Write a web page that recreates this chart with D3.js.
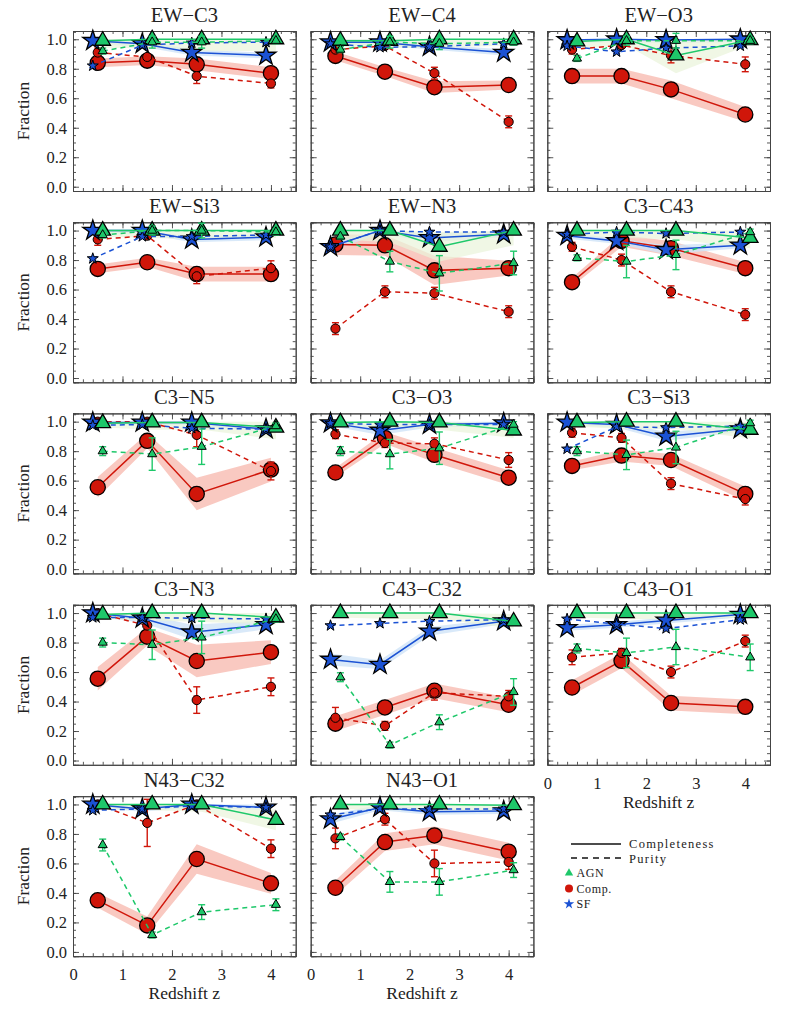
<!DOCTYPE html>
<html><head><meta charset="utf-8">
<script src="https://cdn.jsdelivr.net/npm/d3@7"></script>
<style>
body{margin:0;background:#fff;}
text{font-family:"Liberation Serif","DejaVu Serif","Times New Roman",serif;fill:#222;}
</style></head>
<body><svg id="c" width="789" height="1011"></svg>
<script>
const panelNames = ["EW−C3","EW−C4","EW−O3","EW−Si3","EW−N3","C3−C43","C3−N5","C3−O3","C3−Si3","C3−N3","C43−C32","C43−O1","N43−C32","N43−O1"];
const zBins = [0.5,1.5,2.5,4.0];
const xTicks = [0,1,2,3,4];
const yTicks = [0,0.2,0.4,0.6,0.8,1.0];

const agnComp = [[0.99,1.0,1.0,1.0],[0.99,0.99,1.0,1.0],[0.985,1.0,0.89,0.995],[1.0,1.0,1.0,1.0],[1.0,1.0,0.89,1.0],[1.0,1.0,1.0,0.95],[0.99,0.995,0.995,0.96],[0.995,1.0,0.995,0.94],[0.995,1.0,1.0,0.945],[0.99,1.0,1.0,0.97],[1.0,1.0,1.0,0.943],[1.0,1.0,1.0,1.0],[1.0,1.0,1.0,0.895],[1.0,1.0,1.0,0.995]];
const agnCompErr = [[0.05,0.06,0.08,0.08],[0.04,0.05,0.06,0.04],[0.05,0.04,0.12,0.03],[0.04,0.05,0.06,0.05],[0.06,0.08,0.1,0.1],[0.04,0.05,0.06,0.07],[0.03,0.05,0.05,0.08],[0.03,0.04,0.05,0.05],[0.03,0.05,0.05,0.06],[0.03,0.05,0.06,0.05],[0.03,0.04,0.04,0.05],[0.03,0.04,0.04,0.03],[0.03,0.04,0.05,0.07],[0.03,0.04,0.04,0.04]];
const agnPur = [[0.92,0.98,0.98,0.99],[0.93,0.98,0.97,0.98],[0.87,0.99,0.99,0.99],[0.97,1.0,1.0,0.99],[0.96,0.79,0.71,0.78],[0.815,0.79,0.835,0.99],[0.80,0.78,0.83,0.97],[0.80,0.78,0.82,0.98],[0.80,0.775,0.825,0.99],[0.80,0.785,0.835,0.96],[0.565,0.105,0.26,0.465],[0.76,0.73,0.77,0.70],[0.725,0.115,0.27,0.32],[0.78,0.475,0.475,0.555]];
const agnPurErr = [[0.02,0.04,0.04,0.02],[0.02,0.04,0.04,0.02],[0.02,0.03,0.05,0.02],[0.02,0.03,0.05,0.02],[0.02,0.07,0.12,0.08],[0.02,0.11,0.1,0.02],[0.03,0.11,0.12,0.02],[0.03,0.1,0.11,0.02],[0.03,0.1,0.11,0.02],[0.03,0.1,0.11,0.02],[0.03,0.02,0.05,0.09],[0.03,0.1,0.12,0.09],[0.04,0.02,0.05,0.04],[0.02,0.07,0.09,0.05]];

const cmpComp = [[0.84,0.855,0.83,0.77],[0.887,0.78,0.675,0.69],[0.75,0.75,0.66,0.49],[0.74,0.785,0.705,0.705],[0.905,0.90,0.73,0.745],[0.65,0.93,0.88,0.745],[0.555,0.87,0.51,0.675],[0.655,0.89,0.775,0.62],[0.70,0.77,0.74,0.51],[0.555,0.84,0.675,0.735],[0.25,0.36,0.473,0.378],[0.495,0.676,0.39,0.364],[0.35,0.18,0.63,0.465],[0.435,0.745,0.79,0.68]];
const cmpCompErr = [[0.03,0.03,0.04,0.04],[0.03,0.03,0.04,0.03],[0.05,0.05,0.06,0.05],[0.03,0.03,0.05,0.05],[0.07,0.07,0.1,0.05],[0.03,0.04,0.05,0.04],[0.07,0.05,0.11,0.08],[0.03,0.04,0.05,0.05],[0.03,0.04,0.04,0.05],[0.08,0.06,0.11,0.08],[0.05,0.05,0.05,0.05],[0.05,0.05,0.05,0.05],[0.05,0.06,0.1,0.07],[0.05,0.06,0.06,0.06]];
const cmpPur = [[0.91,0.88,0.75,0.70],[0.93,0.955,0.77,0.44],[0.93,0.96,0.89,0.83],[0.94,0.965,0.69,0.745],[0.335,0.585,0.575,0.45],[0.89,0.80,0.585,0.43],[1.0,1.0,0.91,0.665],[0.915,0.855,0.85,0.74],[0.925,0.89,0.58,0.475],[1.0,0.915,0.41,0.50],[0.29,0.235,0.46,0.435],[0.70,0.73,0.60,0.81],[1.0,0.875,1.0,0.70],[0.77,0.90,0.60,0.61]];
const cmpPurErr = [[0.03,0.02,0.05,0.03],[0.02,0.02,0.04,0.04],[0.03,0.02,0.05,0.05],[0.04,0.02,0.05,0.05],[0.04,0.04,0.04,0.04],[0.03,0.04,0.04,0.04],[0.01,0.01,0.08,0.06],[0.03,0.03,0.04,0.05],[0.03,0.03,0.04,0.04],[0.01,0.02,0.09,0.06],[0.07,0.03,0.05,0.04],[0.05,0.03,0.04,0.04],[0.01,0.16,0.01,0.06],[0.07,0.04,0.09,0.05]];

const sfComp = [[0.99,0.97,0.91,0.89],[0.98,0.98,0.95,0.91],[0.995,1.0,0.995,1.0],[1.0,1.0,0.94,0.955],[0.89,1.0,0.95,0.975],[0.965,0.93,0.87,0.90],[0.995,0.995,0.995,0.95],[0.99,0.94,0.98,0.99],[0.995,0.98,0.90,0.95],[1.0,0.965,0.87,0.92],[0.685,0.65,0.876,0.945],[0.90,0.92,0.95,0.99],[1.0,0.97,1.0,0.98],[0.90,0.98,0.95,0.955]];
const sfCompErr = [[0.02,0.02,0.02,0.02],[0.02,0.02,0.02,0.02],[0.02,0.02,0.02,0.02],[0.02,0.02,0.02,0.02],[0.03,0.02,0.03,0.02],[0.02,0.02,0.03,0.02],[0.02,0.02,0.02,0.02],[0.02,0.03,0.02,0.02],[0.02,0.02,0.03,0.02],[0.02,0.03,0.05,0.03],[0.04,0.03,0.03,0.02],[0.02,0.02,0.02,0.02],[0.02,0.02,0.02,0.02],[0.03,0.02,0.02,0.02]];
const sfPur = [[0.82,0.96,0.975,0.98],[0.97,0.945,0.95,0.97],[0.955,0.915,0.94,0.955],[0.81,0.96,0.96,0.97],[0.89,1.0,0.99,0.99],[0.975,0.99,0.98,0.99],[0.975,0.98,0.955,0.95],[0.99,0.98,0.98,0.98],[0.815,0.965,0.96,0.97],[0.97,0.97,0.965,0.96],[0.915,0.93,0.945,0.955],[0.96,0.925,0.895,0.955],[0.96,0.97,0.99,0.98],[0.93,0.97,0.97,0.97]];
const sfPurErr = [[0.01,0.01,0.01,0.01],[0.01,0.01,0.01,0.01],[0.01,0.01,0.01,0.01],[0.01,0.01,0.01,0.01],[0.01,0.01,0.01,0.01],[0.01,0.01,0.01,0.01],[0.01,0.01,0.01,0.01],[0.01,0.01,0.01,0.01],[0.01,0.01,0.01,0.01],[0.01,0.01,0.01,0.01],[0.01,0.01,0.01,0.01],[0.01,0.01,0.01,0.01],[0.01,0.01,0.01,0.01],[0.01,0.01,0.01,0.01]];

const classes = [
  {key:"cmp", comp:cmpComp, compErr:cmpCompErr, pur:cmpPur, purErr:cmpPurErr, dz:0, color:"#d0160a", band:"#f8bfb6", bandOp:0.85, shape:"circle"},
  {key:"sf", comp:sfComp, compErr:sfCompErr, pur:sfPur, purErr:sfPurErr, dz:-0.1, color:"#1b52d4", band:"#cfe3f8", bandOp:0.8, shape:"star"},
  {key:"agn", comp:agnComp, compErr:agnCompErr, pur:agnPur, purErr:agnPurErr, dz:0.1, color:"#1ec86a", band:"#eaf4da", bandOp:0.7, shape:"triangle"}
];

const FONT = '"Liberation Serif","DejaVu Serif","Times New Roman",serif';
const svg = d3.select("#c");
const colX = [73, 310.7, 547.3];
const rowY = [31, 222.3, 413.4, 604.8, 796.2];
const PW = 222.7, PH = 160;
const x = d3.scaleLinear().domain([0,4.5]).range([0,PW]);
const y = d3.scaleLinear().domain([-0.029,1.056]).range([PH,0]);
const xMinor = d3.range(0,4.5001,0.2).map(v=>+v.toFixed(2));
const yMinor = d3.range(0,1.0501,0.05).map(v=>+v.toFixed(2));

function marker(shape, big){
  if(shape==="circle") return d3.symbol(d3.symbolCircle, big?Math.PI*7.6*7.6:Math.PI*4.6*4.6)();
  if(shape==="star") return d3.symbol(d3.symbolStar, big?(10.5*10.5/0.8908):(5.8*5.8/0.8908))();
  return d3.symbol(d3.symbolTriangle, big?105:36)();
}

panelNames.forEach((name,i)=>{
  const r = Math.floor(i/3), c = i%3;
  const g = svg.append("g").attr("transform",`translate(${colX[c]},${rowY[r]})`);
  const cid = "clip"+i;
  g.append("clipPath").attr("id",cid).append("rect").attr("width",PW).attr("height",PH);

  classes.forEach(cl=>{
    const pts = zBins.map((z,k)=>({z:z+cl.dz, lo:Math.max(0,cl.comp[i][k]-cl.compErr[i][k]), hi:Math.min(1.0,cl.comp[i][k]+cl.compErr[i][k])}));
    const area = d3.area().x(d=>x(d.z)).y0(d=>y(d.lo)).y1(d=>y(d.hi));
    g.append("path").attr("clip-path",`url(#${cid})`).attr("d",area(pts)).attr("fill",cl.band).attr("opacity",cl.bandOp);
  });

  const showY = c===0, showX = (r===4) || (i===11);
  const ax = (axisFn, vals, size, fmt)=> axisFn.tickValues(vals).tickSize(size).tickFormat(fmt);
  g.append("g").attr("transform",`translate(0,${PH})`).call(ax(d3.axisBottom(x), xMinor, -3, ""));
  g.append("g").attr("transform",`translate(0,${PH})`).call(ax(d3.axisBottom(x), xTicks, -6, showX? d3.format("d") : "").tickPadding(12));
  g.append("g").call(ax(d3.axisTop(x), xMinor, -3, ""));
  g.append("g").call(ax(d3.axisTop(x), xTicks, -6, ""));
  g.append("g").call(ax(d3.axisLeft(y), yMinor, -3, ""));
  g.append("g").call(ax(d3.axisLeft(y), yTicks, -6, showY? d3.format(".1f") : "").tickPadding(6));
  g.append("g").attr("transform",`translate(${PW},0)`).call(ax(d3.axisRight(y), yMinor, -3, ""));
  g.append("g").attr("transform",`translate(${PW},0)`).call(ax(d3.axisRight(y), yTicks, -6, ""));
  g.selectAll(".domain").attr("stroke","#444").attr("stroke-width",1);
  g.selectAll(".tick line").attr("stroke","#444").attr("stroke-width",0.9);
  g.selectAll(".tick text").style("font-family",FONT).style("font-size","16.5px").attr("fill","#222");

  g.append("text").attr("x",PW/2).attr("y",-9).attr("text-anchor","middle").style("font-size","20.5px").text(name);
  if(showY) g.append("text").attr("transform",`translate(${23-colX[0]},${PH/2}) rotate(-90)`).attr("text-anchor","middle").attr("dy","0.35em").style("font-size","17.5px").text("Fraction");
  if(showX) g.append("text").attr("x",PW/2).attr("y",PH+43).attr("text-anchor","middle").style("font-size","17.5px").text("Redshift z");

  classes.forEach(cl=>{
    const comp = zBins.map((z,k)=>({z:z+cl.dz, v:cl.comp[i][k]}));
    const pur = zBins.map((z,k)=>({z:z+cl.dz, v:cl.pur[i][k], e:cl.purErr[i][k]}));
    const line = d3.line().x(d=>x(d.z)).y(d=>y(d.v));
    g.append("path").attr("d",line(comp)).attr("fill","none").attr("stroke",cl.color).attr("stroke-width",1.5);
    g.selectAll(null).data(comp).join("path").attr("d",marker(cl.shape,true))
      .attr("transform",d=>`translate(${x(d.z)},${y(d.v)})`).attr("fill",cl.color).attr("stroke","#000").attr("stroke-width",1.3);
    g.append("path").attr("d",line(pur)).attr("fill","none").attr("stroke",cl.color).attr("stroke-width",1.5).attr("stroke-dasharray","5,4");
    const eb = g.selectAll(null).data(pur).join("g").attr("transform",d=>`translate(${x(d.z)},0)`);
    eb.append("line").attr("y1",d=>y(d.v-d.e)).attr("y2",d=>y(d.v+d.e)).attr("stroke",cl.color).attr("stroke-width",1.4);
    eb.append("line").attr("x1",-3.5).attr("x2",3.5).attr("y1",d=>y(d.v-d.e)).attr("y2",d=>y(d.v-d.e)).attr("stroke",cl.color).attr("stroke-width",1.4);
    eb.append("line").attr("x1",-3.5).attr("x2",3.5).attr("y1",d=>y(d.v+d.e)).attr("y2",d=>y(d.v+d.e)).attr("stroke",cl.color).attr("stroke-width",1.4);
    g.selectAll(null).data(pur).join("path").attr("d",marker(cl.shape,false))
      .attr("transform",d=>`translate(${x(d.z)},${y(d.v)})`).attr("fill",cl.color).attr("stroke","#000").attr("stroke-width",1);
  });
});

const lg = svg.append("g");
lg.append("line").attr("x1",571).attr("x2",621).attr("y1",844).attr("y2",844).attr("stroke","#111").attr("stroke-width",1.6);
lg.append("text").attr("x",629).attr("y",848).style("font-size","12.5px").style("letter-spacing","1.3px").text("Completeness");
lg.append("line").attr("x1",571).attr("x2",621).attr("y1",858).attr("y2",858).attr("stroke","#111").attr("stroke-width",1.6).attr("stroke-dasharray","6,5");
lg.append("text").attr("x",629).attr("y",862.5).style("font-size","12.5px").style("letter-spacing","1.3px").text("Purity");
const legItems = [{shape:"triangle",color:"#1ec86a",label:"AGN"},{shape:"circle",color:"#d0160a",label:"Comp."},{shape:"star",color:"#1b52d4",label:"SF"}];
legItems.forEach((d,k)=>{
  const yy = 873 + k*15.5;
  const sz = d.shape==="triangle"? 30 : d.shape==="circle"? Math.PI*16 : 5.5*5.5/0.8908;
  const sym = d.shape==="triangle"? d3.symbolTriangle : d.shape==="circle"? d3.symbolCircle : d3.symbolStar;
  lg.append("path").attr("d",d3.symbol(sym,sz)()).attr("transform",`translate(569,${yy})`).attr("fill",d.color);
  lg.append("text").attr("x",576.5).attr("y",yy+4).style("font-size","12px").style("letter-spacing","0.6px").text(d.label);
});
</script></body></html>
